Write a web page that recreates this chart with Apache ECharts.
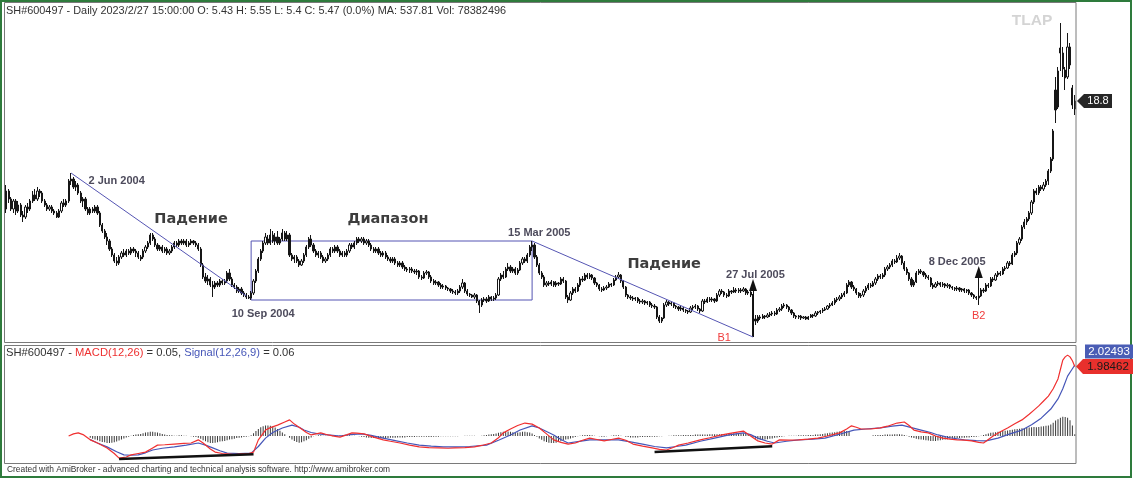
<!DOCTYPE html>
<html><head><meta charset="utf-8">
<script src="https://cdn.jsdelivr.net/npm/echarts@6/dist/echarts.min.js"></script>
<style>html,body{margin:0;padding:0;background:#fff;overflow:hidden}#c{width:1134px;height:479px}</style>
</head><body><div id="c"></div>
<script>
// ---- price data (daily OHLC) ----
const opens=[13.4,14.3,13.9,13.4,13.8,13.3,13.6,13.1,13.0,13.5,
13.4,13.8,14.1,13.9,14.3,14.2,13.8,13.6,13.4,13.5,
13.3,13.2,13.0,13.3,13.7,13.6,13.8,14.8,14.9,14.5,
14.6,14.2,13.8,13.9,13.4,13.2,13.4,13.3,13.5,13.2,
12.6,12.3,12.0,11.8,11.4,11.1,10.8,10.7,11.0,11.2,
11.1,11.3,11.2,11.4,11.3,11.2,11.0,11.0,11.3,11.5,
11.7,12.1,11.9,11.6,11.4,11.5,11.3,11.4,11.2,11.3,
11.5,11.7,11.6,11.8,11.7,11.8,11.6,11.7,11.8,11.7,
11.6,11.4,10.6,10.0,9.8,9.9,9.6,9.5,9.7,9.6,
9.8,9.7,9.8,10.2,9.9,9.6,9.5,9.3,9.4,9.2,
9.1,9.0,8.95,9.2,9.8,10.3,10.9,11.3,11.7,11.9,
11.7,12.1,11.8,12.0,11.7,11.9,12.2,11.9,12.1,11.1,
10.9,11.0,10.8,10.6,10.8,11.1,11.5,11.9,11.6,11.3,
11.1,11.2,11.0,10.8,10.9,11.1,11.4,11.3,11.5,11.3,
11.1,11.2,11.1,11.3,11.6,11.5,11.7,11.9,11.8,11.9,
11.7,11.8,11.6,11.4,11.3,11.4,11.2,11.1,11.2,11.0,
10.9,10.8,10.9,10.7,10.6,10.7,10.5,10.4,10.35,10.4,
10.3,10.25,10.3,10.0,9.95,10.2,10.25,10.0,9.8,9.7,
9.75,9.6,9.5,9.55,9.45,9.4,9.3,9.25,9.2,9.3,
9.5,9.7,9.3,9.15,9.1,9.0,9.1,8.8,8.6,8.85,
8.9,8.8,9.0,8.9,8.95,9.1,9.9,10.1,10.0,10.4,
10.5,10.3,10.4,10.2,10.35,10.7,10.9,10.8,11.1,11.5,
11.6,11.0,10.6,10.2,10.0,9.6,9.7,9.65,9.75,9.6,
9.7,9.65,9.9,9.8,9.0,8.85,9.2,9.4,9.3,9.6,
9.9,9.85,10.1,10.0,10.1,9.95,9.7,9.6,9.4,9.35,
9.45,9.5,9.65,9.6,9.85,10.0,10.1,9.8,9.5,9.1,
9.0,8.95,8.9,8.95,8.8,8.75,8.8,8.7,8.75,8.6,
8.55,8.5,8.0,7.8,7.95,8.6,8.75,8.65,8.7,8.55,
8.5,8.4,8.45,8.35,8.3,8.25,8.45,8.5,8.55,8.4,
8.3,8.8,8.75,8.9,8.85,8.9,8.8,9.1,9.3,9.25,
9.1,9.05,9.3,9.25,9.35,9.3,9.35,9.3,9.4,9.2,
9.25,9.1,7.9,7.8,8.0,7.95,8.05,8.0,8.1,8.15,
8.2,8.15,8.35,8.4,8.55,8.6,8.5,8.35,8.2,8.05,
8.0,8.05,7.95,8.0,7.9,8.0,8.1,8.05,8.2,8.25,
8.3,8.35,8.4,8.55,8.6,8.7,8.85,8.9,9.0,9.1,
9.2,9.6,9.75,9.5,9.4,9.2,9.05,9.1,9.3,9.45,
9.6,9.55,9.7,9.9,10.05,10.0,10.1,10.4,10.5,10.6,
10.8,10.75,10.95,11.05,10.7,10.4,10.2,9.9,9.6,9.75,
10.2,10.3,10.25,10.1,10.0,9.95,9.6,9.5,9.65,9.7,
9.6,9.65,9.55,9.6,9.5,9.45,9.4,9.45,9.35,9.4,
9.3,9.35,9.2,9.1,9.0,8.95,9.05,9.35,9.3,9.6,
9.55,9.9,9.85,10.1,10.2,10.15,10.4,10.45,10.7,10.65,
11.1,11.2,11.7,11.9,12.5,12.75,12.9,13.2,13.75,14.3,
14.2,14.5,14.4,14.6,14.8,15.3,15.9,19.35,18.5,21.45,
21.2,20.35,20.0,21.5,19.45,18.4];
const closes=[14.3,13.9,13.4,13.8,13.3,13.6,13.1,13.0,13.5,13.4,
13.8,14.1,13.9,14.3,14.2,13.8,13.6,13.4,13.5,13.3,
13.2,13.0,13.3,13.7,13.6,13.8,14.8,14.9,14.5,14.6,
14.2,13.8,13.9,13.4,13.2,13.4,13.3,13.5,13.2,12.6,
12.3,12.0,11.8,11.4,11.1,10.8,10.7,11.0,11.2,11.1,
11.3,11.2,11.4,11.3,11.2,11.0,10.9,11.3,11.5,11.7,
12.1,11.9,11.6,11.4,11.5,11.3,11.4,11.2,11.3,11.5,
11.7,11.6,11.8,11.7,11.8,11.6,11.7,11.8,11.7,11.6,
11.4,10.6,10.0,9.8,9.9,9.6,9.5,9.7,9.6,9.8,
9.7,9.8,10.2,9.9,9.6,9.5,9.3,9.4,9.2,9.1,
9.0,8.95,9.2,9.8,10.3,10.9,11.3,11.7,12.0,11.7,
12.1,11.8,12.0,11.7,11.9,12.2,11.9,12.1,11.1,10.9,
11.0,10.8,10.6,10.8,11.1,11.5,11.9,11.6,11.3,11.1,
11.2,11.0,10.8,10.9,11.1,11.4,11.3,11.5,11.3,11.1,
11.2,11.1,11.3,11.6,11.5,11.7,11.9,11.8,11.9,11.7,
11.8,11.6,11.4,11.3,11.4,11.2,11.1,11.2,11.0,10.9,
10.8,10.9,10.7,10.6,10.7,10.5,10.4,10.35,10.4,10.3,
10.25,10.3,10.0,9.95,10.2,10.25,10.0,9.8,9.7,9.75,
9.6,9.5,9.55,9.45,9.4,9.3,9.25,9.2,9.3,9.5,
9.7,9.3,9.15,9.1,9.0,9.1,8.8,8.6,8.85,8.9,
8.8,9.0,8.9,8.95,9.1,9.9,10.1,10.0,10.4,10.5,
10.3,10.4,10.2,10.35,10.7,10.9,10.8,11.1,11.5,11.6,
11.0,10.6,10.2,10.0,9.6,9.7,9.65,9.75,9.6,9.7,
9.65,9.9,9.8,9.0,8.85,9.2,9.4,9.3,9.6,9.9,
9.85,10.1,10.0,10.1,9.95,9.7,9.6,9.4,9.35,9.45,
9.5,9.65,9.6,9.85,10.0,10.1,9.8,9.5,9.1,9.0,
8.95,8.9,8.95,8.8,8.75,8.8,8.7,8.75,8.6,8.55,
8.5,8.0,7.8,7.95,8.6,8.75,8.65,8.7,8.55,8.5,
8.4,8.45,8.35,8.3,8.25,8.45,8.5,8.55,8.4,8.3,
8.8,8.75,8.9,8.85,8.9,8.8,9.1,9.3,9.25,9.1,
9.05,9.3,9.25,9.35,9.3,9.35,9.3,9.4,9.2,9.25,
9.1,7.9,7.8,8.0,7.95,8.05,8.0,8.1,8.15,8.2,
8.15,8.35,8.4,8.55,8.6,8.5,8.35,8.2,8.05,8.0,
8.05,7.95,8.0,7.9,8.0,8.1,8.05,8.2,8.25,8.3,
8.35,8.4,8.55,8.6,8.7,8.85,8.9,9.0,9.1,9.2,
9.6,9.75,9.5,9.4,9.2,9.05,9.1,9.3,9.45,9.6,
9.55,9.7,9.9,10.05,10.0,10.1,10.4,10.5,10.6,10.8,
10.75,10.95,11.05,10.7,10.4,10.2,9.9,9.6,9.75,10.2,
10.3,10.25,10.1,10.0,9.95,9.6,9.5,9.65,9.7,9.6,
9.65,9.55,9.6,9.5,9.45,9.4,9.45,9.35,9.4,9.3,
9.35,9.2,9.1,9.0,8.95,9.05,9.35,9.3,9.6,9.55,
9.9,9.85,10.1,10.2,10.15,10.4,10.45,10.7,10.65,11.1,
11.2,11.7,11.9,12.5,12.75,12.9,13.2,13.75,14.3,14.2,
14.5,14.4,14.6,14.8,15.3,15.9,17.3,18.35,20.3,21.2,
20.4,19.95,21.5,20.6,18.6,18.8];
const lows=[13.2,13.7,13.3,13.2,13.1,13.2,13.0,12.75,12.9,13.2,
13.3,13.7,13.8,13.8,14.0,13.7,13.5,13.3,13.3,13.2,
13.1,12.95,12.95,13.2,13.5,13.5,13.7,14.6,14.4,14.3,
14.1,13.7,13.5,13.3,13.1,13.1,13.2,13.2,13.1,12.5,
12.2,11.9,11.6,11.3,11.0,10.7,10.55,10.6,10.9,11.0,
11.0,11.1,11.1,11.2,11.0,10.9,10.8,10.9,11.2,11.4,
11.6,11.8,11.5,11.3,11.3,11.2,11.2,11.1,11.1,11.2,
11.4,11.5,11.5,11.6,11.6,11.5,11.5,11.6,11.6,11.5,
11.3,10.5,9.9,9.7,9.6,9.5,9.0,9.4,9.5,9.5,
9.6,9.6,9.7,9.8,9.5,9.4,9.2,9.2,9.1,9.0,
8.9,8.9,8.85,9.1,9.7,10.2,10.8,11.2,11.6,11.6,
11.6,11.7,11.6,11.6,11.6,11.8,11.8,11.8,11.0,10.8,
10.7,10.7,10.5,10.55,10.7,11.0,11.4,11.5,11.2,11.0,
10.95,10.9,10.7,10.7,10.8,11.0,11.2,11.2,11.2,11.0,
11.0,11.0,11.0,11.2,11.4,11.4,11.6,11.7,11.7,11.6,
11.6,11.5,11.3,11.2,11.2,11.1,11.0,11.0,10.9,10.8,
10.7,10.7,10.6,10.5,10.5,10.4,10.3,10.25,10.2,10.2,
10.15,10.1,9.9,9.85,9.9,10.1,9.9,9.7,9.6,9.6,
9.5,9.4,9.4,9.35,9.3,9.2,9.15,9.1,9.1,9.2,
9.4,9.2,9.05,9.0,8.95,8.9,8.7,8.2,8.5,8.75,
8.7,8.75,8.8,8.8,8.85,9.05,9.8,9.9,9.95,10.3,
10.2,10.2,10.1,10.1,10.3,10.6,10.7,10.7,11.0,11.3,
10.9,10.5,10.1,9.9,9.5,9.5,9.55,9.55,9.5,9.5,
9.55,9.6,9.7,8.9,8.7,8.8,9.1,9.2,9.25,9.5,
9.75,9.8,9.9,9.9,9.85,9.6,9.5,9.3,9.25,9.3,
9.35,9.45,9.5,9.55,9.8,9.9,9.7,9.4,9.0,8.9,
8.85,8.8,8.8,8.7,8.65,8.65,8.6,8.6,8.5,8.45,
8.4,7.9,7.7,7.7,7.9,8.5,8.55,8.55,8.45,8.4,
8.3,8.3,8.25,8.2,8.15,8.2,8.35,8.4,8.3,8.2,
8.25,8.65,8.7,8.75,8.75,8.7,8.75,9.0,9.15,9.0,
8.95,9.0,9.15,9.2,9.2,9.2,9.2,9.25,9.1,9.1,
9.0,7.0,7.6,7.7,7.85,7.9,7.9,7.95,8.0,8.05,
8.05,8.1,8.25,8.3,8.45,8.4,8.25,8.1,7.95,7.9,
7.9,7.85,7.9,7.85,7.85,7.95,7.95,8.0,8.1,8.15,
8.2,8.3,8.35,8.45,8.55,8.6,8.75,8.8,8.9,9.0,
9.15,9.5,9.4,9.3,9.1,8.95,8.95,9.0,9.2,9.35,
9.45,9.5,9.6,9.8,9.9,9.9,10.0,10.3,10.4,10.5,
10.65,10.7,10.85,10.6,10.3,10.1,9.8,9.5,9.5,9.7,
10.1,10.15,10.0,9.9,9.85,9.5,9.4,9.45,9.55,9.5,
9.5,9.45,9.45,9.4,9.35,9.3,9.3,9.25,9.25,9.2,
9.2,9.1,9.0,8.9,8.85,8.6,9.0,9.2,9.25,9.45,
9.5,9.75,9.8,10.0,10.05,10.1,10.3,10.4,10.55,10.6,
11.0,11.1,11.6,11.8,12.4,12.6,12.8,13.1,13.65,14.1,
14.1,14.3,14.3,14.5,14.6,15.2,15.8,17.7,18.4,20.3,
20.0,19.35,19.9,20.4,18.4,18.1];
const highs=[14.6,14.4,14.0,13.9,13.9,13.8,13.7,13.3,13.6,13.7,
13.9,14.3,14.4,14.5,14.4,14.3,13.9,13.7,13.6,13.6,
13.4,13.3,13.4,13.8,13.9,13.9,14.9,15.2,15.0,14.8,
14.7,14.3,14.0,14.0,13.5,13.5,13.5,13.6,13.6,13.3,
12.7,12.4,12.2,11.9,11.5,11.2,11.0,11.1,11.3,11.4,
11.4,11.4,11.5,11.5,11.4,11.3,11.1,11.4,11.6,11.8,
12.2,12.2,12.0,11.7,11.6,11.6,11.5,11.5,11.4,11.6,
11.8,11.8,11.9,11.9,11.9,11.9,11.8,11.9,11.85,11.8,
11.7,11.5,10.7,10.2,10.1,10.0,9.8,9.8,9.8,9.9,
9.9,9.9,10.3,10.4,10.0,9.7,9.6,9.5,9.5,9.3,
9.2,9.1,9.3,9.9,10.4,11.0,11.4,11.8,12.2,12.1,
12.4,12.3,12.2,12.3,12.0,12.4,12.3,12.3,12.2,11.2,
11.1,11.1,10.9,10.9,11.2,11.6,12.0,12.1,11.7,11.4,
11.3,11.3,11.1,11.0,11.2,11.5,11.5,11.6,11.6,11.4,
11.3,11.3,11.4,11.7,11.7,11.8,12.0,12.0,12.0,12.0,
11.9,11.9,11.7,11.5,11.5,11.5,11.3,11.3,11.3,11.1,
11.0,11.0,11.0,10.8,10.8,10.8,10.6,10.5,10.5,10.5,
10.4,10.4,10.35,10.1,10.3,10.35,10.3,10.1,9.9,9.85,
9.8,9.7,9.65,9.6,9.5,9.45,9.4,9.35,9.4,9.6,
9.9,9.75,9.4,9.2,9.15,9.2,9.15,8.85,8.95,9.0,
9.0,9.1,9.05,9.05,9.2,10.0,10.2,10.3,10.5,10.7,
10.6,10.5,10.5,10.45,10.8,11.0,11.0,11.2,11.6,11.8,
11.7,11.1,10.7,10.3,10.1,9.8,9.8,9.85,9.8,9.8,
9.75,10.0,10.0,9.85,9.1,9.3,9.5,9.5,9.7,10.0,
10.05,10.2,10.2,10.2,10.15,10.0,9.75,9.65,9.5,9.55,
9.6,9.75,9.7,9.95,10.1,10.25,10.15,9.85,9.55,9.15,
9.1,9.05,9.0,9.0,8.9,8.9,8.85,8.8,8.8,8.7,
8.65,8.55,8.1,8.0,8.7,8.85,8.8,8.8,8.75,8.6,
8.55,8.55,8.5,8.4,8.35,8.55,8.6,8.65,8.6,8.45,
8.9,8.9,9.0,9.0,9.0,8.95,9.2,9.4,9.4,9.3,
9.2,9.4,9.35,9.5,9.45,9.45,9.45,9.5,9.45,9.35,
9.3,9.15,8.1,8.1,8.1,8.15,8.1,8.2,8.25,8.3,
8.3,8.45,8.5,8.65,8.7,8.65,8.55,8.4,8.25,8.1,
8.1,8.1,8.05,8.05,8.05,8.15,8.15,8.3,8.3,8.35,
8.45,8.5,8.6,8.7,8.8,8.95,9.0,9.1,9.2,9.3,
9.7,9.85,9.8,9.6,9.45,9.25,9.2,9.4,9.55,9.7,
9.7,9.8,10.0,10.15,10.15,10.2,10.5,10.6,10.7,10.9,
10.9,11.1,11.2,11.1,10.8,10.5,10.25,10.0,9.85,10.3,
10.4,10.4,10.3,10.2,10.1,10.0,9.7,9.75,9.8,9.75,
9.75,9.7,9.7,9.65,9.55,9.5,9.55,9.5,9.45,9.45,
9.4,9.4,9.25,9.15,9.05,9.1,9.45,9.45,9.7,9.7,
10.0,10.0,10.2,10.3,10.3,10.5,10.55,10.8,10.8,11.2,
11.3,11.8,12.0,12.6,12.9,13.0,13.3,13.85,14.4,14.45,
14.6,14.6,14.75,14.9,15.4,16.0,17.4,20.0,20.5,22.7,
21.5,20.5,22.2,21.7,19.6,19.1];

// ---- MACD panel: [bar index, value] ----
const macdPts=[[26,0],[28,0.06],[30,0.09],[32,0.04],[35,-0.11],[38,-0.2],[42,-0.34],[45,-0.5],[47,-0.63],[50,-0.6],[52,-0.54],[55,-0.5],[58,-0.46],[61,-0.34],[63,-0.26],[66,-0.25],[70,-0.23],[74,-0.21],[77,-0.2],[80,-0.11],[82,-0.2],[85,-0.37],[87,-0.46],[90,-0.5],[92,-0.51],[95,-0.53],[98,-0.51],[101,-0.5],[103,-0.46],[105,-0.11],[108,0.17],[110,0.24],[113,0.31],[116,0.4],[118,0.46],[120,0.34],[123,0.2],[125,0.1],[127,0.03],[129,0.06],[131,0.09],[134,0.03],[137,-0.01],[139,-0.03],[142,0.04],[144,0.09],[146,0.08],[149,0.06],[153,-0.03],[157,-0.11],[160,-0.15],[164,-0.2],[168,-0.26],[172,-0.31],[176,-0.33],[180,-0.34],[184,-0.35],[187,-0.34],[191,-0.33],[195,-0.31],[198,-0.27],[202,-0.2],[205,-0.05],[207,0.09],[210,0.2],[213,0.3],[216,0.37],[219,0.34],[222,0.23],[225,0.06],[228,-0.11],[231,-0.18],[234,-0.23],[237,-0.2],[240,-0.12],[243,-0.06],[246,-0.1],[249,-0.14],[252,-0.1],[255,-0.06],[258,-0.12],[261,-0.23],[265,-0.29],[269,-0.34],[272,-0.38],[275,-0.4],[278,-0.32],[280,-0.26],[284,-0.2],[289,-0.11],[293,-0.05],[298,0.03],[302,0.08],[307,0.14],[310,0],[313,-0.14],[316,-0.2],[319,-0.23],[322,-0.11],[326,-0.12],[330,-0.11],[334,-0.09],[338,-0.06],[342,0],[347,0.09],[350,0.2],[352,0.29],[354,0.25],[356,0.2],[360,0.2],[364,0.23],[367,0.28],[371,0.37],[374,0.4],[376,0.3],[378,0.17],[381,0.12],[384,0.09],[387,0],[390,-0.06],[393,-0.09],[396,-0.11],[399,-0.12],[402,-0.14],[405,-0.18],[407,-0.2],[409,-0.1],[411,0],[414,0.12],[417,0.23],[420,0.35],[423,0.46],[426,0.62],[428,0.74],[430,0.86],[432,1.0],[434,1.14],[436,1.35],[438,1.63],[439,1.9],[440,2.17],[441,2.26],[442,2.31],[443,2.26],[444,2.15],[445,1.98462]];
const signalPts=[[35,-0.1],[38,-0.2],[42,-0.31],[46,-0.45],[49,-0.54],[52,-0.55],[55,-0.54],[58,-0.48],[61,-0.4],[65,-0.35],[70,-0.31],[75,-0.26],[80,-0.2],[83,-0.26],[86,-0.34],[89,-0.42],[92,-0.49],[97,-0.5],[102,-0.49],[105,-0.3],[108,-0.06],[111,0.1],[115,0.23],[119,0.31],[122,0.25],[124,0.17],[127,0.1],[130,0.06],[134,0.03],[139,0],[143,0.04],[148,0.06],[152,0.02],[157,-0.06],[162,-0.13],[167,-0.2],[172,-0.26],[177,-0.29],[182,-0.31],[187,-0.31],[193,-0.3],[200,-0.26],[205,-0.12],[210,0.03],[214,0.17],[219,0.29],[222,0.23],[225,0.13],[228,0.03],[231,-0.1],[234,-0.2],[238,-0.16],[243,-0.11],[249,-0.11],[255,-0.11],[260,-0.17],[265,-0.23],[270,-0.3],[275,-0.34],[279,-0.3],[283,-0.26],[289,-0.15],[295,-0.06],[301,0.03],[307,0.09],[310,0.04],[313,-0.06],[317,-0.15],[320,-0.2],[325,-0.15],[330,-0.11],[336,-0.09],[341,-0.06],[347,0.05],[353,0.17],[358,0.2],[364,0.23],[369,0.28],[373,0.31],[377,0.24],[381,0.17],[385,0.1],[388,0.03],[393,-0.05],[399,-0.11],[404,-0.13],[408,-0.14],[413,-0.06],[418,0.06],[423,0.17],[427,0.32],[431,0.51],[435,0.77],[438,1.06],[440,1.35],[442,1.71],[444,1.92],[445,2.02493]];
const histStart=35;
const histVals=[-0.05,-0.08,-0.1,-0.12,-0.15,-0.17,-0.18,-0.2,-0.2,-0.19,
-0.18,-0.16,-0.13,-0.1,-0.07,-0.04,-0.02,0.01,0.03,0.04,
0.05,0.06,0.08,0.1,0.11,0.12,0.12,0.11,0.1,0.08,
0.06,0.04,0.03,0.02,0.02,0.01,0.01,0.02,0.02,0.01,
0.01,0,-0.01,-0.02,-0.03,-0.05,-0.08,-0.12,-0.15,-0.18,
-0.2,-0.2,-0.19,-0.18,-0.16,-0.15,-0.14,-0.12,-0.1,-0.09,
-0.08,-0.06,-0.05,-0.04,-0.03,-0.02,-0.01,0.02,0.08,0.14,
0.2,0.25,0.28,0.3,0.3,0.29,0.27,0.24,0.2,0.15,
0.1,0.05,0,-0.05,-0.1,-0.14,-0.17,-0.19,-0.18,-0.15,
-0.12,-0.08,-0.04,-0.01,0.01,0.02,0.02,0.01,0.01,0,
0,-0.01,0,0.01,0.02,0.03,0.03,0.02,0.02,0.01,
0.01,0,-0.01,-0.02,-0.03,-0.04,-0.05,-0.06,-0.06,-0.06,
-0.06,-0.07,-0.07,-0.06,-0.06,-0.05,-0.05,-0.05,-0.04,-0.04,
-0.04,-0.04,-0.03,-0.03,-0.03,-0.03,-0.02,-0.02,-0.02,-0.02,
-0.02,-0.03,-0.03,-0.02,-0.02,-0.02,-0.01,-0.01,-0.01,-0.01,
-0.01,-0.01,-0.01,-0.01,0,0,0.01,0.01,0.01,0.01,
0.01,0,0,0.01,0.02,0.03,0.04,0.05,0.06,0.07,
0.09,0.11,0.12,0.13,0.13,0.12,0.11,0.1,0.1,0.11,
0.12,0.12,0.11,0.1,0.07,0.03,-0.02,-0.07,-0.11,-0.15,
-0.17,-0.19,-0.2,-0.2,-0.19,-0.17,-0.15,-0.12,-0.1,-0.09,
-0.07,-0.05,-0.03,-0.01,0.01,0.02,0.03,0.03,0.03,0.02,
0.01,0,-0.01,-0.02,-0.02,-0.01,0,0.01,0.02,0.02,
0.02,0.01,0,-0.02,-0.03,-0.04,-0.04,-0.04,-0.04,-0.03,
-0.03,-0.03,-0.03,-0.03,-0.02,-0.02,-0.02,-0.01,-0.01,0,
0,0.01,0.01,0.02,0.02,0.02,0.02,0.03,0.03,0.03,
0.03,0.03,0.04,0.04,0.04,0.04,0.04,0.04,0.05,0.05,
0.05,0.05,0.05,0.06,0.06,0.06,0.07,0.07,0.08,0.08,
0.08,0.08,0.07,0.06,0.04,0.01,-0.04,-0.08,-0.1,-0.11,
-0.11,-0.1,-0.09,-0.08,-0.07,-0.05,-0.04,-0.03,-0.02,-0.01,
0,0.01,0.01,0.01,0.01,0.02,0.02,0.02,0.02,0.03,
0.03,0.03,0.04,0.04,0.05,0.06,0.07,0.08,0.09,0.1,
0.11,0.12,0.13,0.14,0.14,0.14,0.13,0,0,0,
0,0,0,0,0,0,0.02,0.02,0.03,0.03,
0.03,0.04,0.04,0.04,0.04,0.05,0.05,0.05,0.04,0.03,
0.01,-0.02,-0.04,-0.06,-0.08,-0.09,-0.1,-0.11,-0.12,-0.13,
-0.14,-0.14,-0.14,-0.13,-0.12,-0.11,-0.1,-0.09,-0.08,-0.07,
-0.07,-0.06,-0.06,-0.05,-0.05,-0.04,-0.04,-0.03,-0.03,-0.02,
-0.01,0.01,0.03,0.05,0.07,0.09,0.1,0.11,0.12,0.13,
0.14,0.15,0.16,0.17,0.18,0.19,0.2,0.21,0.22,0.23,
0.24,0.24,0.25,0.26,0.25,0.26,0.27,0.28,0.29,0.3,
0.33,0.38,0.44,0.48,0.52,0.55,0.54,0.52,0.45,0.3,0.05];
const divergence1=[[47,-0.66],[103,-0.52]];
const divergence2=[[270,-0.46],[319,-0.29]];

// ---- annotations (data coordinates: bar index, price) ----
const trendLines=[[27,15.2,100,9.05],[219,11.8,311,7.0]];
const rangeBox=[102,11.8,219,8.85];
const arrows=[[311,7.0,9.6],[405,8.65,10.25]];
const noteText=['2 Jun 2004','Падение','Диапазон','10 Sep 2004','15 Mar 2005','Падение','27 Jul 2005','B1','8 Dec 2005','B2'];
const noteIdx=[46,77,159,107,222,274,312,299,396,405];
const notePrice=[14.8,12.9,12.9,8.15,12.2,10.65,10.1,6.95,10.75,8.05];
const noteKind=['d','w','w','d','d','w','d','b','d','b'];

const chart=echarts.init(document.getElementById('c'));
const N=closes.length;
const cats=closes.map((_,i)=>String(i));
const candles=closes.map((c,i)=>[opens[i],c,lows[i],highs[i]]);
const hist=histVals.map((v,k)=>[histStart+k,v]);
const LB='#5555b3';
const F='"Liberation Sans", Arial, sans-serif';

const mlData=trendLines.map(t=>[{coord:[t[0],t[1]]},{coord:[t[2],t[3]]}]).concat(
  arrows.map(a=>[{coord:[a[0],a[1]],symbol:'none',lineStyle:{color:'#111',width:1}},
                 {coord:[a[0],a[2]],symbol:'triangle',symbolSize:[8,12],lineStyle:{color:'#111',width:1}}]));

chart.setOption({
  animation:false,
  grid:[{left:5,width:1071,top:3,height:339},{left:5,width:1071,top:346,height:117}],
  xAxis:[{type:'category',gridIndex:0,data:cats,show:false},{type:'category',gridIndex:1,data:cats,show:false}],
  yAxis:[{type:'value',gridIndex:0,min:6.75,max:23.7,show:false},{type:'value',gridIndex:1,min:-0.771,max:2.571,show:false}],
  series:[
    {type:'candlestick',xAxisIndex:0,yAxisIndex:0,data:candles,barWidth:1.7,silent:true,
     itemStyle:{color:'#ffffff',color0:'#161616',borderColor:'#161616',borderColor0:'#161616',borderWidth:1},
     markLine:{silent:true,symbol:['none','none'],label:{show:false},lineStyle:{color:LB,width:1,type:'solid'},data:mlData},
     markArea:{silent:true,label:{show:false},itemStyle:{color:'rgba(0,0,0,0)',borderColor:LB,borderWidth:1},
       data:[[{coord:[rangeBox[0],rangeBox[1]]},{coord:[rangeBox[2],rangeBox[3]]}]]}},
    {type:'bar',xAxisIndex:1,yAxisIndex:1,data:hist,barWidth:1,silent:true,itemStyle:{color:'#3a3a3a'}},
    {type:'line',xAxisIndex:1,yAxisIndex:1,data:signalPts,showSymbol:false,silent:true,lineStyle:{color:'#4656b8',width:1.2},itemStyle:{color:'#4656b8'}},
    {type:'line',xAxisIndex:1,yAxisIndex:1,data:macdPts,showSymbol:false,silent:true,lineStyle:{color:'#f03030',width:1.2},itemStyle:{color:'#f03030'}},
    {type:'line',xAxisIndex:1,yAxisIndex:1,data:divergence1,showSymbol:false,silent:true,lineStyle:{color:'#111',width:2.5}},
    {type:'line',xAxisIndex:1,yAxisIndex:1,data:divergence2,showSymbol:false,silent:true,lineStyle:{color:'#111',width:2.5}}
  ]
});

function txt(x,y,text,font,fill,align,valign){
  return {type:'text',x:x,y:y,z:100,silent:true,style:{text:text,font:font,fill:fill,align:align||'left',verticalAlign:valign||'top',textAlign:align||'left',textVerticalAlign:valign||'top'}};
}
const kinds={d:['bold 11px '+F,'#4d4b5c'],w:['bold 14.5px "DejaVu Sans", sans-serif','#3d3d3d'],b:['11px '+F,'#f03c3c']};
const g=[];
g.push({type:'rect',z:50,silent:true,shape:{x:1,y:1,width:1130,height:476},style:{fill:'none',stroke:'#2e7b3c',lineWidth:2}});
g.push({type:'rect',z:50,silent:true,shape:{x:4.5,y:2.5,width:1071.5,height:340},style:{fill:'none',stroke:'#7a7a7a',lineWidth:1}});
g.push({type:'rect',z:50,silent:true,shape:{x:4.5,y:345.5,width:1071.5,height:118},style:{fill:'none',stroke:'#7a7a7a',lineWidth:1}});
g.push(txt(6,5,'SH#600497 - Daily 2023/2/27 15:00:00 O: 5.43 H: 5.55 L: 5.4 C: 5.47 (0.0%) MA: 537.81 Vol: 78382496','10.9px '+F,'#333'));
g.push({type:'text',x:6,y:347,z:100,silent:true,style:{text:'{a|SH#600497 - }{r|MACD(12,26)}{a| = 0.05, }{b|Signal(12,26,9)}{a| = 0.06}',
  font:'11.2px '+F,verticalAlign:'top',textVerticalAlign:'top',
  rich:{a:{fill:'#333',font:'11.2px '+F},r:{fill:'#ee3030',font:'11.2px '+F},b:{fill:'#4656b8',font:'11.2px '+F}}}});
g.push(txt(7,466,'Created with AmiBroker - advanced charting and technical analysis software. http://www.amibroker.com','8.4px '+F,'#333'));
g.push(txt(1032,21,'TLAP','bold 15.5px '+F,'#d4d4d4','center','middle'));
for(let k=0;k<noteText.length;k++){
  const p=chart.convertToPixel({seriesIndex:0},[noteIdx[k],notePrice[k]]);
  const s=kinds[noteKind[k]];
  g.push(txt(p[0],p[1],noteText[k],s[0],s[1],'center','middle'));
}
// last price tag
const lp=chart.convertToPixel({seriesIndex:0},[N-1,closes[N-1]]);
const ly=lp[1];
g.push({type:'polygon',z:100,silent:true,shape:{points:[[1077,ly],[1084,ly-7],[1112,ly-7],[1112,ly+7],[1084,ly+7]]},style:{fill:'#262626'}});
g.push(txt(1098,ly,String(closes[N-1]),'11px '+F,'#ffffff','center','middle'));
// MACD / Signal tags
const lastM=macdPts[macdPts.length-1], lastS=signalPts[signalPts.length-1];
const my=chart.convertToPixel({seriesIndex:3},lastM)[1];
g.push({type:'polygon',z:100,silent:true,shape:{points:[[1076,my],[1083,my-7.5],[1133,my-7.5],[1133,my+7.5],[1083,my+7.5]]},style:{fill:'#e8302c'}});
g.push(txt(1108,my,lastM[1].toFixed(5),'11.5px '+F,'#1a1a1a','center','middle'));
g.push({type:'rect',z:100,silent:true,shape:{x:1085,y:my-22,width:48,height:14},style:{fill:'#4a5db5'}});
g.push(txt(1109,my-15,lastS[1].toFixed(5),'11.5px '+F,'#ffffff','center','middle'));
chart.setOption({graphic:g});
</script>
</body></html>
